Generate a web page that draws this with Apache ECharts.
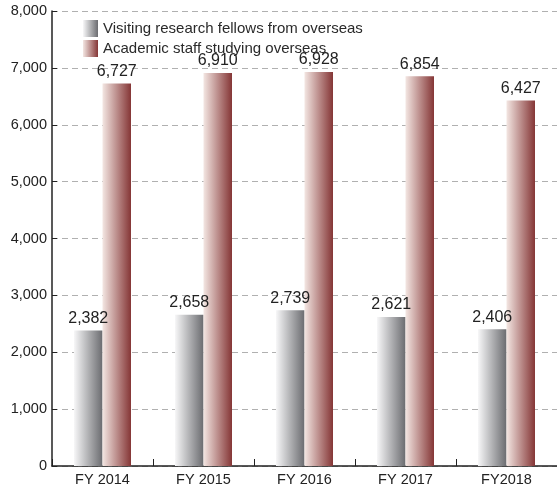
<!DOCTYPE html>
<html><head><meta charset="utf-8">
<script src="https://cdn.jsdelivr.net/npm/echarts@6/dist/echarts.min.js"></script>
<style>html,body{margin:0;padding:0;background:#fff}#c{width:557px;height:489px}</style>
</head><body><div id="c"></div>
<script>
const categories = ['FY 2014','FY 2015','FY 2016','FY 2017','FY2018'];
const visiting = [2382, 2658, 2739, 2621, 2406];
const academic = [6727, 6910, 6928, 6854, 6427];
const seriesNames = ['Visiting research fellows from overseas','Academic staff studying overseas'];

const greyGrad = new echarts.graphic.LinearGradient(0,0,1,0,[{offset:0,color:'#f7f7f8'},{offset:1,color:'#6b6c70'}]);
const redGrad = new echarts.graphic.LinearGradient(0,0,1,0,[{offset:0,color:'#f3e6e2'},{offset:1,color:'#853636'}]);
const fmt = v => v.toLocaleString('en-US');
const chart = echarts.init(document.getElementById('c'));
chart.setOption({
  animation:false,
  textStyle:{fontFamily:'Liberation Sans, Arial, sans-serif'},
  grid:{left:52,right:0,top:11,bottom:23},
  legend:{left:78,top:15,orient:'vertical',itemWidth:15,itemHeight:17,itemGap:3,
    textStyle:{fontSize:15,color:'#2a2a2a',lineHeight:17},
    data:[{name:seriesNames[0],icon:'rect'},{name:seriesNames[1],icon:'rect'}]},
  xAxis:{type:'category',data:categories,
    axisLine:{lineStyle:{color:'#222',width:1.5}},
    axisTick:{show:true,inside:true,length:7,lineStyle:{color:'#222'}},
    axisLabel:{fontSize:14.5,color:'#222',margin:6}},
  yAxis:{type:'value',min:0,max:8000,interval:1000,
    axisLine:{show:true,lineStyle:{color:'#222',width:1.5}},
    axisTick:{show:true,inside:true,length:5,lineStyle:{color:'#222'}},
    axisLabel:{fontSize:14.5,color:'#222',margin:5,formatter:v=>fmt(v)},
    splitLine:{lineStyle:{type:[6,4],color:'#b0b0b0'}}},
  series:[
    {name:seriesNames[0],type:'bar',data:visiting,barWidth:28.5,barGap:'0%',
     itemStyle:{color:greyGrad},
     label:{show:true,position:'top',fontSize:16,color:'#222',distance:4,formatter:p=>fmt(p.value)}},
    {name:seriesNames[1],type:'bar',data:academic,barWidth:28.5,
     itemStyle:{color:redGrad},
     label:{show:true,position:'top',fontSize:16,color:'#222',distance:4,formatter:p=>fmt(p.value)}}
  ]
});
</script></body></html>
